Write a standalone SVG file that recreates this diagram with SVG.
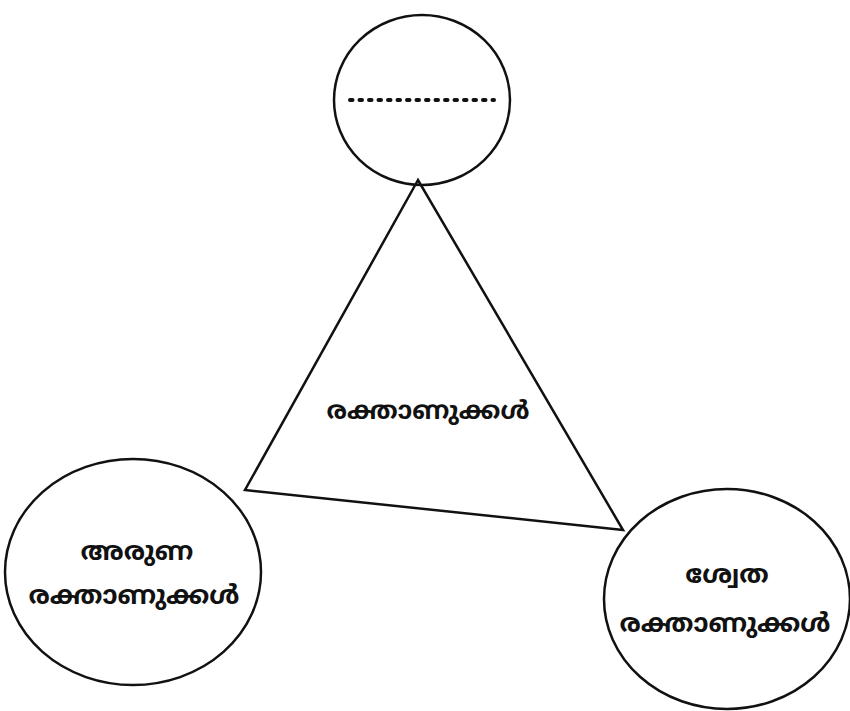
<svg xmlns="http://www.w3.org/2000/svg" width="850" height="711" viewBox="0 0 850 711">
<style>
.shape{fill:none;stroke:#111;stroke-width:2.5}
.lbl{font-family:"Noto Sans Malayalam","Noto Sans","DejaVu Sans",sans-serif;font-size:26px;font-weight:bold;fill:#111;text-anchor:middle}
</style>
<rect width="850" height="711" fill="#fff"/>
<g id="connectors">
<path class="shape" d="M418,180 L245,490 L623,530 Z"/>
</g>
<g id="center-label">
<text class="lbl" x="428" y="419" style="font-size:25px">രക്താണുക്കൾ</text>
</g>
<g id="top-node">
<ellipse class="shape" cx="422" cy="100" rx="88" ry="85"/>
<line x1="350" y1="100" x2="494" y2="100" stroke="#111" stroke-width="4" stroke-dasharray="2.5 7" stroke-linecap="round"/>
</g>
<g id="left-node">
<ellipse class="shape" cx="133" cy="572" rx="128" ry="113"/>
<text class="lbl" x="137" y="560">അരുണ</text>
<text class="lbl" x="134" y="604">രക്താണുക്കൾ</text>
</g>
<g id="right-node">
<ellipse class="shape" cx="727" cy="599" rx="123" ry="110"/>
<text class="lbl" x="727" y="583">ശ്വേത</text>
<text class="lbl" x="725" y="632">രക്താണുക്കൾ</text>
</g>
</svg>
